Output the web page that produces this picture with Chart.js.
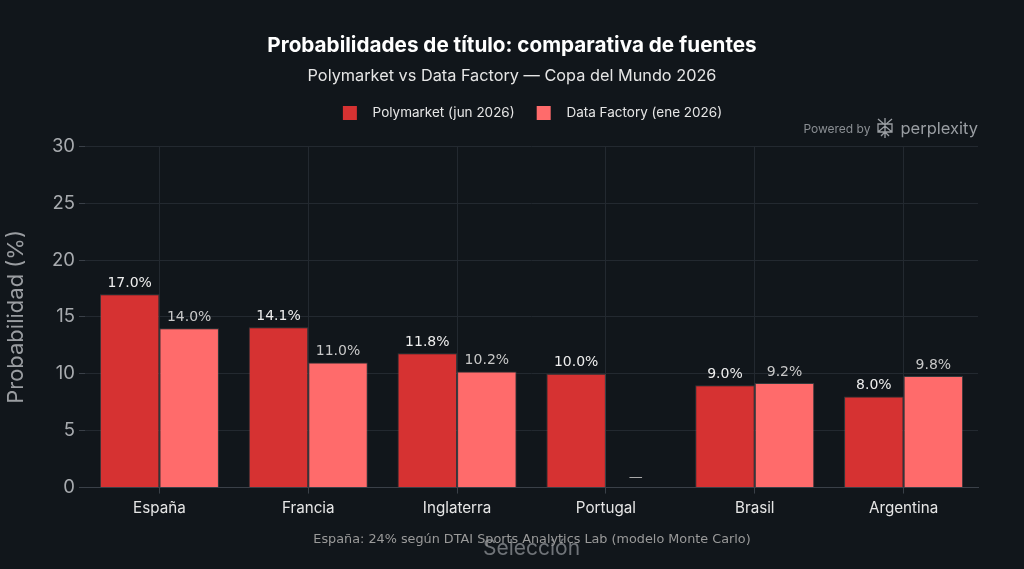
<!DOCTYPE html>
<html>
<head>
<meta charset="utf-8">
<script src="https://cdn.jsdelivr.net/npm/chart.js"></script>
<style>
  html, body { margin: 0; padding: 0; background: #11161b; }
  #wrap { position: relative; width: 1024px; height: 569px; }
  #brand { position: absolute; top: 117px; right: 46px; color: #8a8e93; font: 12px Inter, sans-serif; display: flex; align-items: center; gap: 5px; }
  #brand b { font-weight: 400; font-size: 16.5px; color: #9a9ea3; }
</style>
</head>
<body>
<div id="wrap">
  <canvas id="c" width="1024" height="569"></canvas>
  <div id="brand">Powered by
    <svg width="20" height="22" viewBox="0 0 20 22" fill="none" stroke="#9a9ea3" stroke-width="1.3">
      <path d="M3 2 L10 8 L17 2 M10 1 V21 M3 7 H17 V15 H3 Z M3 15 L10 9 L17 15 M6 19 L10 15 L14 19"/>
    </svg>
    <b>perplexity</b>
  </div>
</div>
<script>
const categorias = ['España', 'Francia', 'Inglaterra', 'Portugal', 'Brasil', 'Argentina'];
const polymarket = [17.0, 14.1, 11.8, 10.0, 9.0, 8.0];
const dataFactory = [14.0, 11.0, 10.2, null, 9.2, 9.8];
const yTicks = [0, 5, 10, 15, 20, 25, 30];
const nota = 'España: 24% según DTAI Sports Analytics Lab (modelo Monte Carlo)';

const rojo = '#d63232';
const rosa = '#ff6b6b';
const borde = 'rgba(120,120,120,0.35)';

// cuadrito de leyenda con hueco a la derecha
function cuadro(color) {
  const c = document.createElement('canvas');
  c.width = 25; c.height = 14;
  const g = c.getContext('2d');
  g.fillStyle = color;
  g.fillRect(2, 0, 14, 14);
  return c;
}

// etiquetas encima de las barras + nota al pie
const etiquetas = {
  id: 'etiquetas',
  afterInit(chart) {
    const lg = chart.legend;
    const f = lg.fit.bind(lg);
    lg.fit = function () { f(); this.height += 17; };
  },
  afterDatasetsDraw(chart) {
    const ctx = chart.ctx;
    ctx.save();
    ctx.font = '14px "DejaVu Sans"';
    ctx.textAlign = 'center';
    ctx.textBaseline = 'bottom';
    chart.data.datasets.forEach((ds, i) => {
      const meta = chart.getDatasetMeta(i);
      meta.data.forEach((bar, j) => {
        const v = ds.data[j];
        if (v == null) {
          const y0 = chart.scales.y.getPixelForValue(0);
          ctx.fillStyle = '#aaaaaa';
          ctx.fillText('—', bar.x, y0 - 3);
        } else {
          ctx.fillStyle = i == 0 ? '#eeeeee' : '#c8c8c8';
          ctx.fillText(v.toFixed(1) + '%', bar.x, bar.y - 4);
        }
      });
    });
    ctx.restore();
  },
  afterDraw(chart) {
    const ctx = chart.ctx;
    ctx.save();
    ctx.font = '12.8px "DejaVu Sans"';
    ctx.fillStyle = '#9a9a9a';
    ctx.textAlign = 'center';
    ctx.textBaseline = 'middle';
    ctx.fillText(nota, 532, 540);
    ctx.restore();
  }
};

new Chart(document.getElementById('c'), {
  type: 'bar',
  data: {
    labels: categorias,
    datasets: [
      { label: 'Polymarket (jun 2026)', data: polymarket, backgroundColor: rojo, borderColor: borde, borderWidth: 1, pointStyle: cuadro(rojo) },
      { label: 'Data Factory (ene 2026)', data: dataFactory, backgroundColor: rosa, borderColor: borde, borderWidth: 1, pointStyle: cuadro(rosa) }
    ]
  },
  options: {
    responsive: false,
    animation: false,
    layout: { padding: { top: 33.6, right: 3, left: 3, bottom: 8 } },
    plugins: {
      title: {
        display: true,
        text: 'Probabilidades de título: comparativa de fuentes',
        color: '#ffffff',
        font: { family: 'Inter', size: 20.7, weight: 'bold' },
        padding: { top: 0, bottom: 7.8 }
      },
      subtitle: {
        display: true,
        text: 'Polymarket vs Data Factory — Copa del Mundo 2026',
        color: '#e6e6e6',
        font: { family: 'Inter', size: 16.3 },
        padding: { top: 0, bottom: 0 }
      },
      legend: {
        fullSize: false,
        labels: {
          color: '#e6e6e6',
          font: { family: 'Inter', size: 13.5 },
          usePointStyle: true,
          pointStyleWidth: 25,
          boxHeight: 14,
          padding: 20
        }
      },
      tooltip: { enabled: false }
    },
    datasets: { bar: { categoryPercentage: 0.8, barPercentage: 1.0 } },
    scales: {
      x: {
        grid: { offset: false, color: '#232930', tickColor: '#3a4048', tickLength: 6 },
        border: { color: '#3a4048' },
        ticks: { color: '#e6e6e6', font: { family: 'Inter', size: 15.2 }, padding: 6 },
        title: { display: true, text: 'Selección', color: '#6f7378', font: { family: 'Inter', size: 21 }, padding: { top: 12, bottom: 0 } }
      },
      y: {
        min: 0,
        max: 30,
        afterBuildTicks(scale) { scale.ticks = yTicks.map(v => ({ value: v })); },
        grid: { color: '#232930', tickColor: '#3a4048', tickLength: 6 },
        border: { display: false },
        ticks: { color: '#a8abaf', font: { family: 'Inter', size: 18.5 }, padding: 4 },
        title: { display: true, text: 'Probabilidad (%)', color: '#9a9da1', font: { family: 'Inter', size: 22 }, padding: 0 },
        afterFit(scale) { scale.width = 82; }
      },
      derecha: {
        position: 'right',
        display: true,
        grid: { display: false },
        border: { display: false },
        ticks: { display: false },
        afterFit(scale) { scale.width = 43; }
      }
    }
  },
  plugins: [etiquetas]
});
</script>
</body>
</html>
